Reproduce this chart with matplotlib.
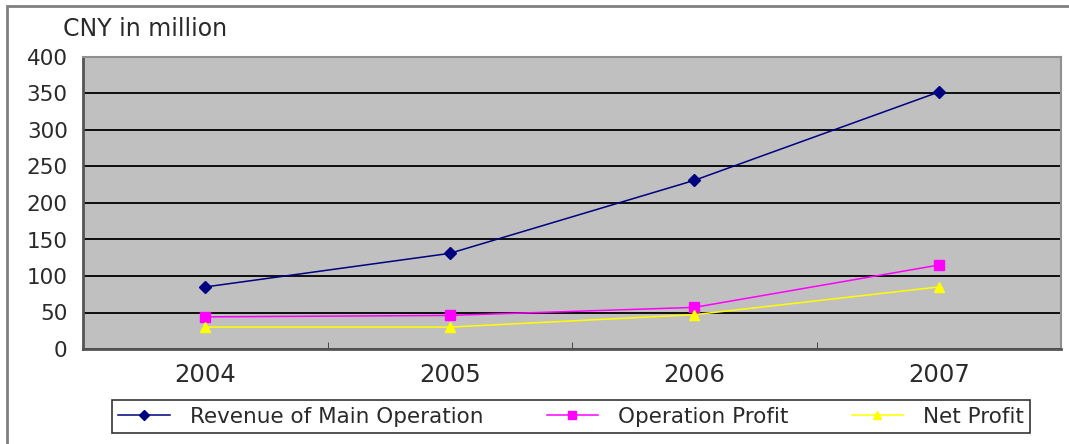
import matplotlib
matplotlib.use("Agg")
import matplotlib.pyplot as plt
from matplotlib.patches import Rectangle

years = ["2004", "2005", "2006", "2007"]
revenue = [85, 131, 231, 352]
op_profit = [44, 46, 57, 115]
net_profit = [30, 30, 47, 85]
yticks = [0, 50, 100, 150, 200, 250, 300, 350, 400]

plt.rcParams['font.family'] = ['DejaVu Sans']
TXT = '#2a2a2a'

W, H = 1069, 444
fig = plt.figure(figsize=(W/100, H/100), dpi=100)
fig.patch.set_facecolor('white')
fig.patches.append(Rectangle((7/W, -10/H), (1080-7)/W, (438+10)/H, transform=fig.transFigure,
                             fill=False, edgecolor='#808080', linewidth=2))

ax = fig.add_axes([83/W, (H-349)/H, (1061-83)/W, (349-57)/H])
ax.set_facecolor('#C0C0C0')
x = list(range(len(years)))
ax.plot(x, revenue, color='#000080', marker='D', markersize=6, linewidth=1.1,
        label='Revenue of Main Operation', zorder=3)
ax.plot(x, op_profit, color='#FF00FF', marker='s', markersize=7, linewidth=1.1,
        label='Operation Profit', zorder=3)
ax.plot(x, net_profit, color='#FFFF00', marker='^', markersize=7, linewidth=1.1,
        label='Net Profit', zorder=3)

ax.set_xlim(-0.5, len(years) - 0.5)
ax.set_ylim(0, 400)
ax.set_yticks(yticks)
ax.set_yticklabels([str(v) for v in yticks], fontsize=15.5, color=TXT)
ax.set_xticks(x)
ax.set_xticklabels(years, fontsize=17.5, color=TXT)
ax.set_xticks([i + 0.5 for i in x[:-1]], minor=True)
ax.tick_params(axis='x', which='major', length=0, pad=10)
ax.tick_params(axis='x', which='minor', length=5, direction='in', color='#333333')
ax.tick_params(axis='y', length=0, pad=11)
ax.grid(axis='y', color='#000000', linewidth=1.3)
ax.set_axisbelow(True)
for s in ['left', 'bottom']:
    ax.spines[s].set_color('#555555')
    ax.spines[s].set_linewidth(2)
for s in ['top', 'right']:
    ax.spines[s].set_color('#909090')
    ax.spines[s].set_linewidth(1.5)

fig.text(63/W, (H-29)/H, 'CNY in million', fontsize=17, va='center', ha='left', color=TXT)

leg = fig.legend(loc='lower left', bbox_to_anchor=(112/W, (H-433)/H, (1030-112)/W, 38/H),
                 mode='expand', ncol=3, fontsize=15.5, frameon=True, fancybox=False,
                 edgecolor='black', handlelength=2.4, handletextpad=0.9, borderaxespad=0,
                 borderpad=0.3, markerscale=0.9)
leg.get_frame().set_linewidth(1.2)
for t in leg.get_texts():
    t.set_color(TXT)

fig.savefig('out.png', dpi=100)
